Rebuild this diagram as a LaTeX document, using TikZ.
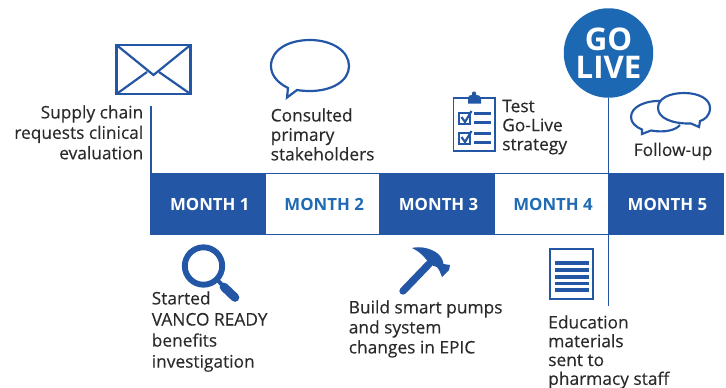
\documentclass[tikz,border=0pt]{standalone}
\usepackage{fontspec}
\setmainfont{Open Sans}
\newfontfamily\lblfont[FakeBold=0.25]{Open Sans}
\definecolor{barblue}{HTML}{2356A4}
\definecolor{golive}{HTML}{1D68B3}
\definecolor{monthtxt}{HTML}{1F6BB5}
\definecolor{txtgray}{HTML}{2B2A2B}
\tikzset{
  monthbox/.style={draw=barblue,line width=0.8pt,outer sep=0pt,minimum width=114.4*0.75pt,minimum height=61*0.75pt,inner sep=0pt,execute at begin node={\hspace*{2.4pt}},font=\bfseries\fontsize{12.6}{12.6}\selectfont},
  fullbox/.style={monthbox,fill=barblue,text=white},
  openbox/.style={monthbox,fill=white,text=monthtxt},
  lbl/.style={inner sep=0pt,text=txtgray,font=\lblfont\fontsize{13}{#1}\selectfont,align=left},
  lbl/.default=14.6,
  icon/.style={draw=barblue,line width=2.2*0.75pt}
}
\begin{document}
\begin{tikzpicture}[x=0.75pt,y=-0.75pt]
\useasboundingbox (0,0) rectangle (726,387);
% month bar
\node[fullbox,anchor=north west] (m1) at (151,173.5) {MONTH 1};
\node[openbox,anchor=west] (m2) at (m1.east) {MONTH 2};
\node[fullbox,anchor=west] (m3) at (m2.east) {MONTH 3};
\node[openbox,anchor=west] (m4) at (m3.east) {MONTH 4};
\node[fullbox,anchor=west] (m5) at (m4.east) {MONTH 5};
% go live
\node[circle,fill=golive,text=white,minimum size=89.5*0.75pt,inner sep=0pt,align=center,font=\bfseries\fontsize{23.4}{21}\selectfont] (go) at (608.5,53) {GO\\LIVE};
\coordinate (stemend) at (608.5,306);
\draw[draw=barblue,line width=0.9pt] (go.south) -- (stemend);
\coordinate (stemtop) at (151,106);
\draw[draw=barblue,line width=0.9pt] (stemtop) -- (m1.north west);
% labels
\node[lbl=15.3,align=right,anchor=north east] (chain) at (143.5,105) {Supply chain\\requests clinical\\evaluation};
\node[lbl,anchor=north west] (consult) at (270.5,108) {Consulted\\primary\\stakeholders};
\node[lbl=14.3,anchor=north west] (strategy) at (502,99.5) {Test\\Go-Live\\strategy};
\node[lbl,anchor=north west] (follow) at (633.5,142.5) {Follow-up};
\node[lbl=15.8,anchor=north west] (started) at (151.5,291) {Started\\VANCO READY\\benefits\\investigation};
\node[lbl=15,anchor=north west] (build) at (348.5,300) {Build smart pumps\\and system\\changes in EPIC};
\node[lbl=14.1,anchor=north west] (educ) at (548,315) {Education\\materials\\sent to\\pharmacy staff};
% envelope
\draw[icon,line join=miter] (116.5,45) rectangle (190.5,94);
\draw[icon] (116.5,45) -- (153.5,75) -- (190.5,45);
\draw[icon] (116.5,94) -- (147,72);
\draw[icon] (190.5,94) -- (159,72);
% speech bubble
\draw[icon,line join=miter] (288,88) .. controls (276,82) and (271,74) .. (271,66) .. controls (271,50) and (288,40) .. (310,40) .. controls (332,40) and (349,51) .. (349,66) .. controls (349,81) and (332,91) .. (310,91) .. controls (304,91) and (300,90.5) .. (297,90) -- (287,97.5) -- cycle;
% clipboard
\draw[draw=barblue,line width=1.2pt] (453.5,98) rectangle (495,151);
\fill[barblue] (468,103.5) -- (468,98) .. controls (468,95.5) and (470,95) .. (472,95) -- (472,93) .. controls (472,91) and (476,91) .. (476,93) -- (476,95) .. controls (478,95) and (481,95.5) .. (481,98) -- (481,103.5) -- cycle;
\foreach \yy in {109,129}{
  \draw[draw=barblue,line width=0.9pt,fill=white] (459,\yy+4) rectangle (470,\yy+15);
  \draw[draw=barblue,line width=1.6pt] (461.5,\yy+8) -- (465,\yy+13) -- (471.5,\yy+2);
  \draw[draw=barblue,line width=1.7pt] (474,\yy+4.5) -- (490.5,\yy+4.5);
  \draw[draw=barblue,line width=1.7pt] (474,\yy+13.5) -- (490.5,\yy+13.5);
}
% two bubbles
\draw[draw=barblue,line width=1.6pt,line join=miter] (663,101) .. controls (645,100) and (631,107) .. (631,117) .. controls (631,123) and (636,127) .. (642,129.5) -- (642,134) -- (651,130.5) .. controls (665,133) and (676,130) .. (680,125);
\draw[draw=barblue,line width=1.6pt,line join=miter,fill=white] (658,108) .. controls (658,98) and (670,93) .. (684,93) .. controls (699,93) and (710,99) .. (710,108) .. controls (710,116) and (704,120) .. (700,121) -- (699,127) -- (691,123.5) .. controls (672,124) and (658,118) .. (658,108) -- cycle;
% magnifier
\draw[draw=barblue,line width=4.4pt] (203.5,266) circle (18.7);
\draw[draw=barblue,line width=3pt] (217.5,280) -- (224,287);
\draw[draw=barblue,line width=6.5pt,line cap=round] (224,287) -- (235,297.5);
% hammer
\draw[draw=barblue,line width=5.5pt,line cap=round] (403,291) -- (429,264);
\fill[barblue] (412,248) .. controls (420,246) and (430,248) .. (437,253) .. controls (441,256) and (443,260) .. (443.5,264) -- (450,265) -- (449,270) -- (442,277) .. controls (440,272) and (439,269) .. (437,267) -- (431,265) -- (425,258) .. controls (421,253) and (416,250) .. (412,248) -- cycle;
% document
\draw[draw=barblue,line width=1.2pt] (550,249) rectangle (593,299);
\foreach \yy in {263,270,277,283.5,290}{
  \draw[draw=barblue,line width=2.6pt] (555,\yy) -- (588.5,\yy);
}
\end{tikzpicture}
\end{document}
